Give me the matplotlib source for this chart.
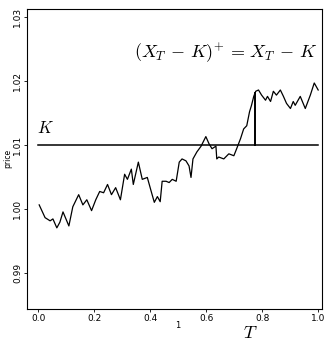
import numpy as np
import matplotlib.pyplot as plt

plt.rcParams['mathtext.fontset'] = 'cm'

# price path
t = [0.004, 0.025, 0.043, 0.053, 0.067, 0.078, 0.089, 0.110, 0.124, 0.145,
     0.160, 0.174, 0.191, 0.206, 0.220, 0.234, 0.248, 0.262, 0.277, 0.294,
     0.309, 0.319, 0.333, 0.340, 0.358, 0.372, 0.390, 0.404, 0.415, 0.426,
     0.436, 0.443, 0.457, 0.468, 0.479, 0.493, 0.504, 0.514, 0.528, 0.539,
     0.546, 0.553, 0.567, 0.582, 0.599, 0.610, 0.621, 0.635, 0.638, 0.645,
     0.663, 0.681, 0.699, 0.709, 0.723, 0.734, 0.745, 0.755, 0.762, 0.770,
     0.777, 0.787, 0.798, 0.812, 0.819, 0.830, 0.840, 0.851, 0.865, 0.876,
     0.887, 0.901, 0.911, 0.918, 0.936, 0.954, 0.972, 0.986, 1.000]
price = [1.0006, 0.9986, 0.9981, 0.9984, 0.9970, 0.9979, 0.9995, 0.9973, 1.0003, 1.0022,
         1.0006, 1.0014, 0.9997, 1.0014, 1.0027, 1.0025, 1.0038, 1.0022, 1.0033, 1.0014,
         1.0054, 1.0046, 1.0062, 1.0038, 1.0073, 1.0046, 1.0049, 1.0027, 1.0010, 1.0019,
         1.0011, 1.0043, 1.0043, 1.0041, 1.0046, 1.0043, 1.0073, 1.0078, 1.0075, 1.0067,
         1.0049, 1.0078, 1.0089, 1.0098, 1.0113, 1.0102, 1.0094, 1.0098, 1.0078, 1.0081,
         1.0078, 1.0086, 1.0083, 1.0094, 1.0110, 1.0125, 1.0130, 1.0152, 1.0162, 1.0176,
         1.0184, 1.0186, 1.0178, 1.0170, 1.0176, 1.0168, 1.0184, 1.0178, 1.0186, 1.0176,
         1.0165, 1.0157, 1.0168, 1.0162, 1.0176, 1.0157, 1.0178, 1.0197, 1.0186]

K = 1.01
T_mark = 0.775
X_T = 1.0182

xticks = [0.0, 0.2, 0.4, 0.6, 0.8, 1.0]
yticks = [0.99, 1.00, 1.01, 1.02, 1.03]

fig = plt.figure(figsize=(3.27, 3.44), dpi=100)
ax = fig.add_axes([0.083, 0.102, 0.902, 0.872])

ax.plot(t, price, color='black', lw=0.9)
ax.plot([0, 1], [K, K], color='black', lw=1.1)
ax.plot([T_mark, T_mark], [K, X_T], color='black', lw=1.4)

ax.text(-0.005, 1.0113, r'$K$', fontsize=12, ha='left', va='bottom')
ax.text(0.995, 1.0244, r'$(X_T\,-\,K)^{+}\,=\,X_T\,-\,K$', fontsize=13,
        ha='right', va='center')

ax.set_xlim(-0.039, 1.014)
ax.set_ylim(0.9843, 1.0313)
ax.set_xticks(xticks)
ax.set_xticklabels(['%.1f' % v for v in xticks], fontsize=6.5)
ax.set_yticks(yticks)
ax.set_yticklabels(['%.2f' % v for v in yticks], fontsize=6.5, rotation=90, va='center')
ax.tick_params(direction='out', length=2, width=0.6, pad=1.5)
ax.set_ylabel('price', fontsize=5.5, labelpad=1)

for s in ax.spines.values():
    s.set_linewidth(0.8)

fig.text(250 / 327, 1 - 333 / 344, r'$T$', fontsize=13, ha='center', va='center')
fig.text(178 / 327, 1 - 325 / 344, '1', fontsize=6, ha='center', va='center')

fig.savefig('out.png', dpi=100)
